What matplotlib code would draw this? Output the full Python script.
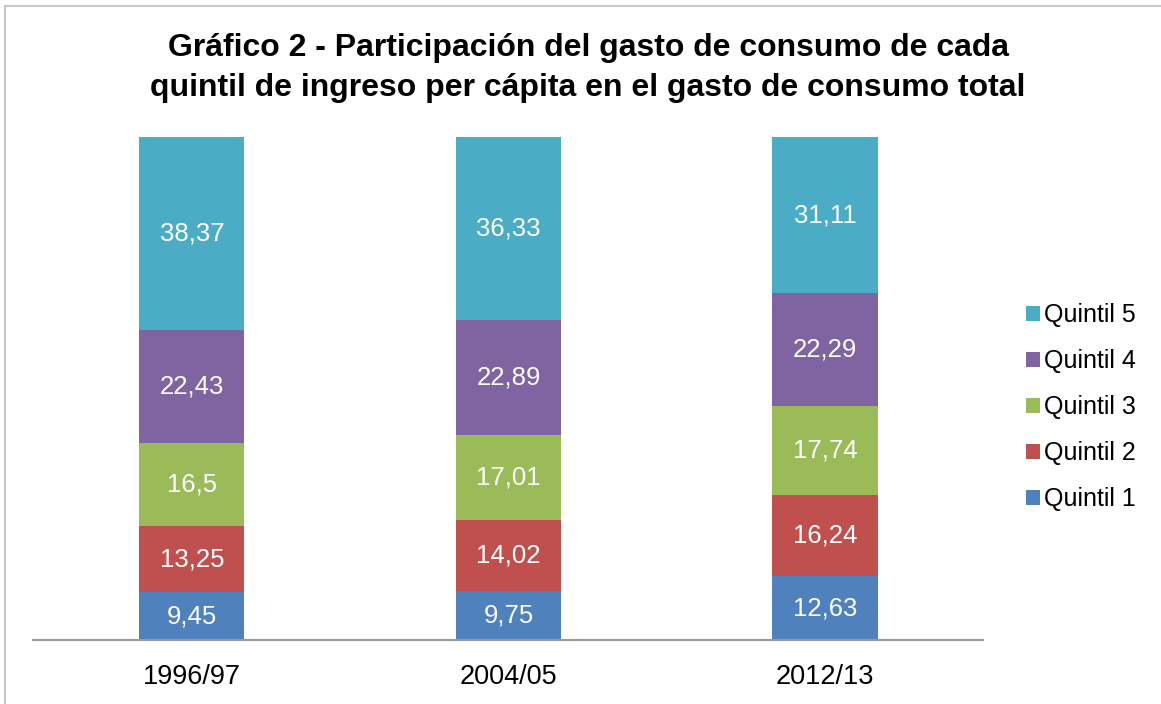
import matplotlib.pyplot as plt
from matplotlib.patches import Rectangle

plt.rcParams['font.family'] = ['Liberation Sans', 'DejaVu Sans']

# data
years = ["1996/97", "2004/05", "2012/13"]
quintil_1 = [9.45, 9.75, 12.63]
quintil_2 = [13.25, 14.02, 16.24]
quintil_3 = [16.5, 17.01, 17.74]
quintil_4 = [22.43, 22.89, 22.29]
quintil_5 = [38.37, 36.33, 31.11]
series = [quintil_1, quintil_2, quintil_3, quintil_4, quintil_5]
names = ["Quintil 1", "Quintil 2", "Quintil 3", "Quintil 4", "Quintil 5"]
colors = ["#4F81BD", "#C0504D", "#9BBB59", "#8064A2", "#4BACC6"]

fig = plt.figure(figsize=(11.61, 7.04), dpi=100)
ax = fig.add_axes([33/1161, 1 - 640/704, (983 - 33)/1161, (640 - 137)/704])

x = range(len(years))
bottom = [0, 0, 0]
handles = []
for vals, name, c in zip(series, names, colors):
    bars = ax.bar(x, vals, width=0.332, bottom=bottom, color=c, label=name)
    handles.append(bars)
    for xi, v, b in zip(x, vals, bottom):
        lbl = ("%g" % v).replace(".", ",")
        ax.text(xi, b + v / 2, lbl, ha="center", va="center", color="white", fontsize=18.5)
    bottom = [b + v for b, v in zip(bottom, vals)]

ax.set_xlim(-0.502, 2.499)
ax.set_ylim(0, 100)
ax.set_yticks([])
ax.set_xticks(list(x))
ax.set_xticklabels(years, fontsize=19.5)
ax.tick_params(axis="x", length=0, pad=17)
for s in ["top", "right", "left"]:
    ax.spines[s].set_visible(False)
ax.spines["bottom"].set_color("#999999")
ax.spines["bottom"].set_linewidth(1.5)

leg = fig.legend(handles[::-1], names[::-1], loc="center left",
                 bbox_to_anchor=(1003/1161, 1 - 407/704), frameon=False,
                 fontsize=18, handlelength=0.56, handleheight=0.56,
                 handletextpad=0.2, labelspacing=0.88)

fig.text(588/1161, 1 - 68/704,
         "Gráfico 2 - Participación del gasto de consumo de cada\n"
         "quintil de ingreso per cápita en el gasto de consumo total",
         ha="center", va="center", fontsize=23, fontweight="bold", linespacing=1.45)

fig.patches.append(Rectangle((5/1161, -0.1), 1.2, 1 - 6/704 + 0.1,
                             transform=fig.transFigure, fill=False,
                             edgecolor="#c8c8c8", linewidth=1.5))

fig.savefig("out.png", dpi=100)
